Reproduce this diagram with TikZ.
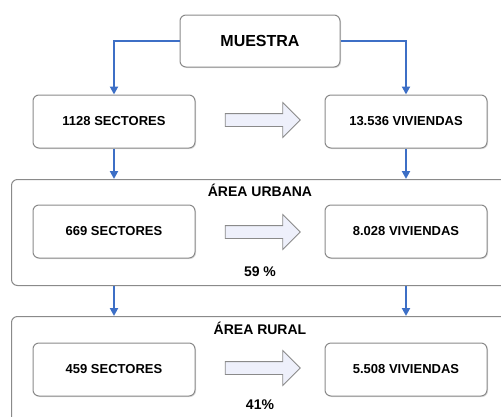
\documentclass[tikz,border=0pt]{standalone}
\usepackage{fontspec}
\setmainfont{Liberation Sans}
\usepackage{xcolor}
\usetikzlibrary{shapes.arrows,arrows.meta,shadows}
\definecolor{link}{HTML}{3D6FC6}
\definecolor{frame}{HTML}{8A8A8A}
\definecolor{flowfill}{HTML}{EEF0FB}
\tikzset{
  box/.style={draw=frame, fill=white, line width=1pt, rounded corners=6pt, minimum width=162pt, minimum height=53pt,
    font=\bfseries\fontsize{13}{15}\selectfont, drop shadow={shadow xshift=1pt, shadow yshift=-1pt, opacity=0.25}},
  area/.style={draw=frame, line width=1pt, rounded corners=6pt, anchor=north west, minimum width=499pt},
  lab/.style={font=\bfseries\fontsize{14}{16}\selectfont},
  link/.style={draw=link, line width=2.5pt, -{Triangle[length=8pt,width=8pt]}},
  flow/.style={single arrow, draw=frame, fill=flowfill, line width=0.8pt, minimum height=75pt, minimum width=34pt,
    single arrow head extend=11pt, inner xsep=0pt, inner ysep=6pt, text height=0pt, text depth=0pt}
}

\begin{document}
\begin{tikzpicture}[x=1pt,y=-1pt]
  \useasboundingbox (0,0) rectangle (501,416);

  % sample
  \node[box, minimum width=160pt, minimum height=52pt, font=\bfseries\fontsize{16}{18}\selectfont] (muestra) at (260,41) {MUESTRA};
  \node[box] (sec) at (114,121.5) {1128 SECTORES};
  \node[box] (viv) at (406,121.5) {13.536 VIVIENDAS};
  \node[flow] (f1) at (259.5,120) {};
  \draw[link] (muestra.west) -| (sec.north);
  \draw[link] (muestra.east) -| (viv.north);

  % urban area
  \node[area, minimum height=106pt] (urb) at (11,179) {};
  \node[lab] (urbT) at (260,190) {ÁREA URBANA};
  \node[box] (secU) at (114,231.5) {669 SECTORES};
  \node[box] (vivU) at (406,231.5) {8.028 VIVIENDAS};
  \node[flow] (f2) at (259.5,232) {};
  \node[lab] (pU) at (260,272) {59 \%};
  \draw[link] (sec.south) -- (sec.south |- urb.north);
  \draw[link] (viv.south) -- (viv.south |- urb.north);

  % rural area
  \node[area, minimum height=120pt] (rur) at (11,316) {};
  \node[lab] (rurT) at (260,328) {ÁREA RURAL};
  \node[box] (secR) at (114,369.5) {459 SECTORES};
  \node[box] (vivR) at (406,369.5) {5.508 VIVIENDAS};
  \node[flow] (f3) at (259.5,368) {};
  \node[lab] (pR) at (260,405) {41\%};
  \draw[link] (secU.south |- urb.south) -- (secU.south |- rur.north);
  \draw[link] (vivU.south |- urb.south) -- (vivU.south |- rur.north);
\end{tikzpicture}
\end{document}
